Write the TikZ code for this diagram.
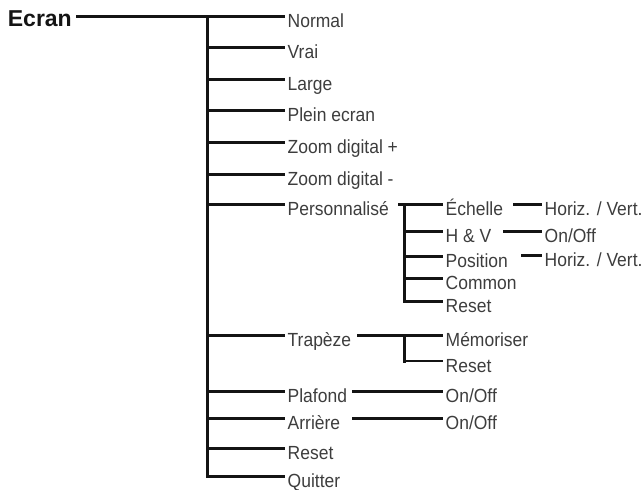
\documentclass[tikz,border=0pt]{standalone}
\usepackage{fontspec}
\setmainfont[FakeStretch=0.92]{Liberation Sans}
\newfontfamily\rootfont{Liberation Sans}
\begin{document}
\begin{tikzpicture}[x=1pt,y=-1pt,
  lbl/.style={font=\fontsize{19}{22}\selectfont, text=black!76, inner sep=0pt, inner xsep=2.5pt, text height=22.6pt, text depth=0pt, anchor=west},
  conn/.style={line width=3pt, black!92},
  thinconn/.style={line width=1.5pt, black!92},
  vconn/.style={line width=3pt, black!92, line cap=rect}]
\useasboundingbox (0,0) rectangle (643,490);
% root
\node[font=\rootfont\fontsize{23}{26}\selectfont\bfseries, text=black!92, inner sep=0pt, inner xsep=4pt, text height=20pt, text depth=0pt, anchor=east] (ecran) at (76,16) {Ecran};
% level 1
\node[lbl] (normal) at (285,16) {Normal};
\node[lbl] (vrai) at (285,47.5) {Vrai};
\node[lbl] (large) at (285,79) {Large};
\node[lbl] (plein) at (285,110) {Plein ecran};
\node[lbl] (zoomp) at (285,142) {Zoom digital +};
\node[lbl] (zoomm) at (285,174) {Zoom digital -};
\node[lbl] (perso) at (285,204) {Personnalisé};
\node[lbl] (trap) at (285,335) {Trapèze};
\node[lbl] (plaf) at (285,391) {Plafond};
\node[lbl] (arr) at (285,418) {Arrière};
\node[lbl] (reset) at (285,448) {Reset};
\node[lbl] (quit) at (285,476) {Quitter};
% level 2
\node[lbl] (ech) at (443,204) {Échelle};
\node[lbl] (hv) at (443,231) {H \& V};
\node[lbl] (pos) at (443,256) {Position};
\node[lbl] (common) at (443,278) {Common};
\node[lbl] (preset) at (443,301) {Reset};
\node[lbl] (mem) at (443,335) {Mémoriser};
\node[lbl] (treset) at (443,361) {Reset};
\node[lbl] (plon) at (443,391) {On/Off};
\node[lbl] (aron) at (443,418) {On/Off};
% level 3
\node[lbl] (echhv) at (542,204) {Horiz. / Vert.};
\node[lbl] (hvon) at (542,231) {On/Off};
\node[lbl] (poshv) at (542,255) {Horiz. / Vert.};
% junction coordinates
\coordinate (mtop) at (207,16);
\coordinate (ps) at (398,204);
\coordinate (pv) at (404,204);
\coordinate (ts) at (357,335);
\coordinate (tv) at (404,335);
\coordinate (pls) at (352,391);
\coordinate (ars) at (352,418);
\coordinate (es) at (513,204);
\coordinate (hs) at (503,231);
\coordinate (poss) at (521,255);
% main tree
\draw[conn] (ecran.east) -- (normal.west);
\draw[vconn] (mtop) -- (mtop |- quit.west);
\foreach \n in {vrai,large,plein,zoomp,zoomm,perso,trap,plaf,arr,reset,quit}
  \draw[conn] (mtop |- \n.west) -- (\n.west);
% Personnalisé
\draw[conn] (ps) -- (ech.west);
\draw[vconn] (pv) -- (pv |- preset.west);
\foreach \n in {hv,pos,common,preset}
  \draw[conn] (pv |- \n.west) -- (\n.west);
\draw[conn] (es) -- (echhv.west);
\draw[conn] (hs) -- (hvon.west);
\draw[conn] (poss) -- (poshv.west);
% Trapèze
\draw[conn] (ts) -- (mem.west);
\draw[vconn] (tv) -- (tv |- treset.west);
\draw[thinconn] (tv |- treset.west) -- (treset.west);
% Plafond, Arrière
\draw[conn] (pls) -- (plon.west);
\draw[conn] (ars) -- (aron.west);
\end{tikzpicture}
\end{document}
